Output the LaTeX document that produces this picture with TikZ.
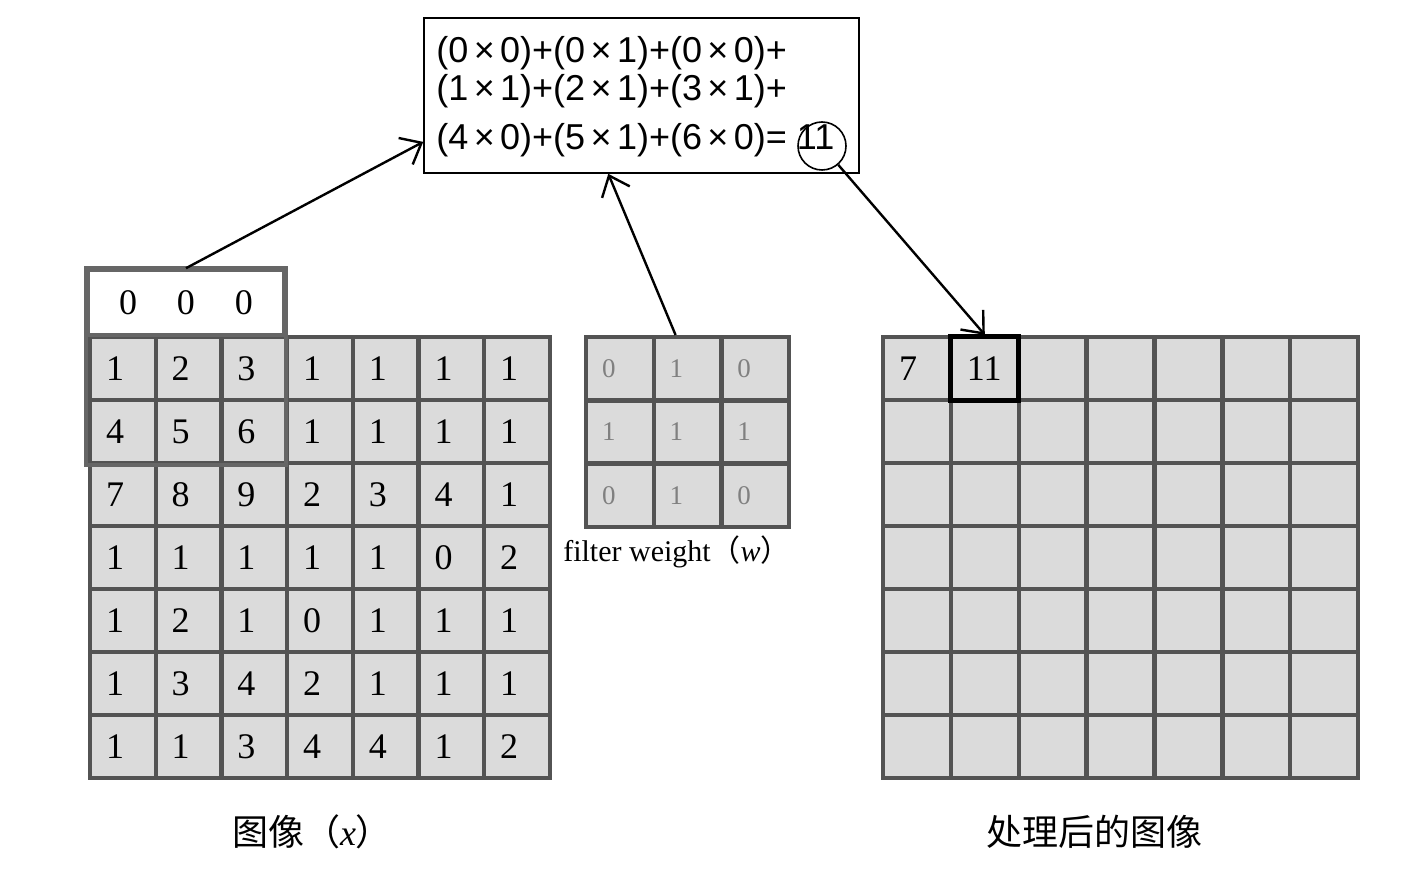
\documentclass[tikz,border=0pt]{standalone}
\usepackage{fontspec}
\setmainfont{Liberation Serif}
\newfontfamily\formfont{Liberation Sans}
\newfontfamily\cjk{Noto Sans CJK SC}
\usetikzlibrary{arrows.meta}
\newcommand{\tm}{\hspace{0.15em}×\hspace{0.15em}}

\begin{document}
\begin{tikzpicture}[x=0.5pt, y=-0.5pt,
    cell/.style = {draw=gray!65!black, fill=gray!28, line width=2.2pt, minimum height=31.5pt,
                   inner xsep=8pt, inner ysep=0pt, text width=#1, align=left,
                   font=\fontsize{18}{18}\selectfont},
    cell/.default = 16.85pt,
    frm/.style = {font=\formfont\fontsize{18}{18}\selectfont, inner sep=0pt, anchor=base west},
    arr/.style = {-{Straight Barb[length=9pt,width=15pt]}, line width=1.2pt},
    imgcap/.style = {font=\cjk\fontsize{18}{18}\selectfont}]
    \useasboundingbox (0,0) rectangle (1417,887);

    % image x
    \foreach \row [count=\r] in {{1,2,3,1,1,1,1},{4,5,6,1,1,1,1},{7,8,9,2,3,4,1},{1,1,1,1,1,0,2},
                                 {1,2,1,0,1,1,1},{1,3,4,2,1,1,1},{1,1,3,4,4,1,2}} {
        \foreach \v [count=\c] in \row {
            \node[cell] (x-\r-\c) at ({90+65.7*(\c-0.5)}, {337+63*(\r-0.5)}) {\v};
        }
    }
    \node[draw=gray!80!black, fill=white, line width=1.8pt, minimum width=98pt, minimum height=32.5pt,
          font=\fontsize{18}{18}\selectfont] (pad) at (186,302.5) {0\hspace{20pt}0\hspace{20pt}0};
    \draw[gray!80!black, line width=1.8pt] (pad.north west) rectangle (pad.east |- x-2-3.south);

    % filter w
    \foreach \row [count=\r] in {{0,1,0},{1,1,1},{0,1,0}} {
        \foreach \v [count=\c] in \row {
            \node[cell=17.85pt, text=black!50, font=\fontsize{13.5}{13.5}\selectfont]
                (f-\r-\c) at ({586+67.7*(\c-0.5)}, {337+63.3*(\r-0.5)}) {\v};
        }
    }
    \node[font=\fontsize{15}{15}\selectfont] (fw) at (677,552)
        {filter weight{\cjk （}\textit{w}{\cjk ）}};

    % output
    \foreach \r in {1,...,7} {
        \foreach \c in {1,...,7} {
            \node[cell=17.9pt] (o-\r-\c) at ({883+67.86*(\c-0.5)}, {337+63*(\r-0.5)}) {};
        }
    }
    \node[cell=17.9pt] at (o-1-1) {7};
    \node[cell=17.9pt, draw=black, line width=2.5pt] at (o-1-2) {11};

    % formula
    \node[draw, line width=0.8pt, minimum width=217.5pt, minimum height=77.5pt] (box) at (641.5,95.5) {};
    \node[frm] (l1) at (436,63) {(0\tm 0)+(0\tm 1)+(0\tm 0)+};
    \node[frm] (l2) at (436,101) {(1\tm 1)+(2\tm 1)+(3\tm 1)+};
    \node[frm] (l3) at (436,150) {(4\tm 0)+(5\tm 1)+(6\tm 0)= 11};
    \node[draw, circle, line width=0.8pt, minimum size=24pt] (res) at (822,146) {};

    \draw[arr] (pad.north) -- (box.192);
    \draw[arr] ([xshift=-6pt]f-1-2.north) -- (box.247);
    \draw[arr] (res) -- (o-1-2.north);

    \node[imgcap] (lx) at (312,832) {图像（\textrm{\textit{x}}）};
    \node[imgcap] (ly) at (1094,832) {处理后的图像};
\end{tikzpicture}
\end{document}
